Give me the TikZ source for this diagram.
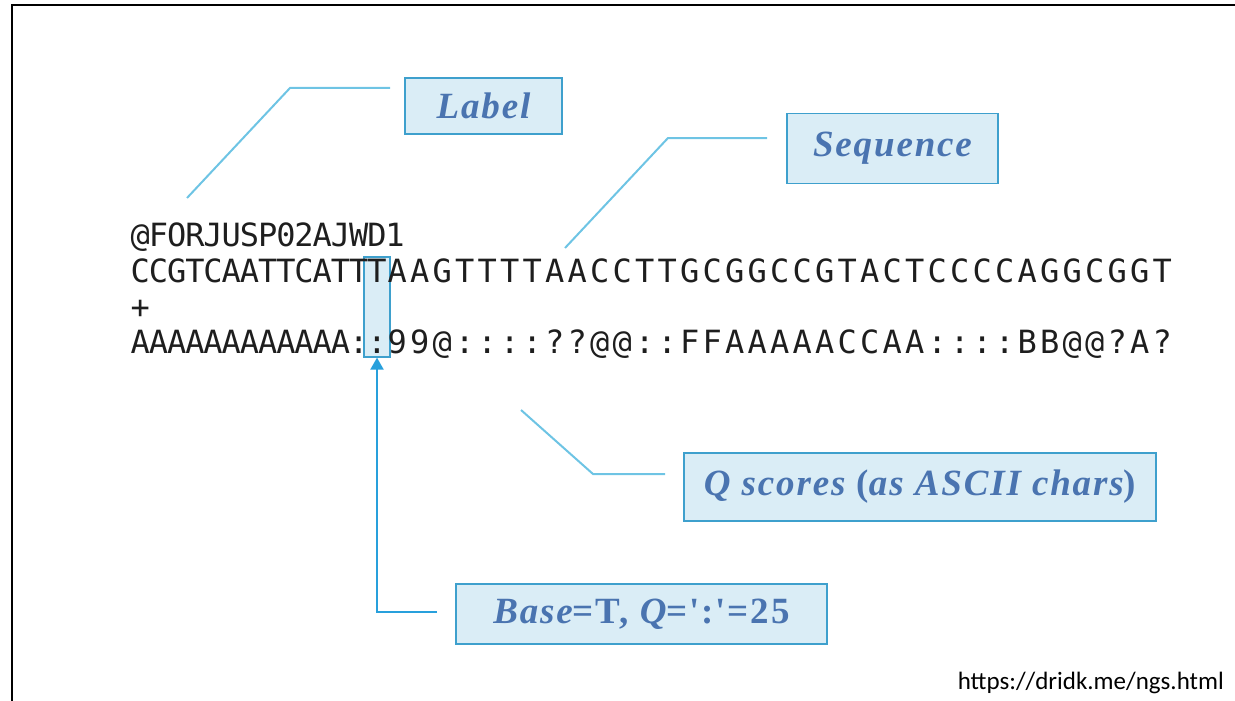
\documentclass[tikz,border=0pt]{standalone}
\usepackage{fontspec}
\setmainfont{Liberation Serif}
\newfontfamily\seqfont{DejaVu Sans Mono}
\newfontfamily\callfont[LetterSpace=5]{Liberation Serif}
\newfontfamily\urlfont{Carlito}
\usetikzlibrary{arrows.meta}

\definecolor{callout}{RGB}{110,196,228}
\definecolor{boxfill}{RGB}{218,237,246}
\definecolor{boxedge}{RGB}{62,160,205}
\definecolor{boxtext}{RGB}{74,116,176}
\definecolor{arrowblue}{RGB}{40,160,220}
\definecolor{ink}{RGB}{30,30,30}

% set a string one character per fixed-width cell
\makeatletter
\newcommand\monorow[2]{\def\mr@w{#1}\@tfor\mr@c:=#2\do{\makebox[\mr@w]{\mr@c}}}
\makeatother

\begin{document}
\begin{tikzpicture}[x=1pt,y=-1pt,
  callbox/.style={draw=boxedge, fill=boxfill, line width=1.5pt, text=boxtext,
    font=\callfont\fontsize{37}{37}\selectfont\bfseries\itshape, inner sep=0pt},
  callline/.style={draw=callout, line width=2pt},
  arrowline/.style={draw=arrowblue, line width=2pt, -{Triangle[length=12pt,width=13pt]}},
  hlbox/.style={draw=boxedge, fill=boxfill, line width=1.2pt, minimum width=26pt,
    minimum height=100pt, inner sep=0pt},
  seqline/.style={anchor=base west, inner sep=0pt, text=ink,
    font=\seqfont\fontsize{32}{32}\selectfont}]
\useasboundingbox (0,0) rectangle (1235,701);

% outer frame
\draw[line width=2pt, black] (11.5,701) -- (11.5,5.5) -- (1235,5.5);

% highlighted column
\node[hlbox] (hl) at (377,307) {};

% FASTQ record
\node[seqline] (l1) at (131,246) {\monorow{18.2pt}{@FORJUSP02AJWD1}};
\node[seqline] (l2) at (131,282) {\monorow{18.2pt}{CCGTCAATTCATTT}\monorow{22.5pt}{AAGTTTTAACCTTGCGGCCGTACTCCCCAGGCGGT}};
\node[seqline] (l3) at (131,318) {\monorow{18.2pt}{+}};
\node[seqline] (l4) at (131,353) {\monorow{18.2pt}{AAAAAAAAAAAA::}\monorow{22.5pt}{99@::::??@@::FFAAAAACCAA::::BB@@?A?}};

% callout boxes
\node[callbox, minimum width=157pt, minimum height=56pt] (lab) at (483.5,106) {Label};
\node[callbox, minimum width=211pt, minimum height=70pt] (seq) at (892.5,148.5) {Sequence};
\node[callbox, minimum width=472pt, minimum height=68pt] (qs) at (920,487) {Q scores {\upshape(}as ASCII chars{\upshape)}};
\node[callbox, minimum width=371pt, minimum height=60pt] (base) at (641.5,614) {Base{\upshape=T, }Q{\upshape=':'=25}};

% callout leaders
\coordinate (labTail) at (187,198);
\coordinate (labKnee) at (290,88);
\coordinate (labEnd) at (390,88);
\draw[callline] (labTail) -- (labKnee) -- (labEnd);

\coordinate (seqTail) at (565,248);
\coordinate (seqKnee) at (668,138);
\coordinate (seqEnd) at (767,138);
\draw[callline] (seqTail) -- (seqKnee) -- (seqEnd);

\coordinate (qsTail) at (521,410);
\coordinate (qsKnee) at (593,474);
\coordinate (qsEnd) at (665,474);
\draw[callline] (qsTail) -- (qsKnee) -- (qsEnd);

\coordinate (baseEnd) at (437,612);
\draw[arrowline] (baseEnd) -- (hl.south |- baseEnd) -- (hl.south);

% source
\node[anchor=base east, inner sep=0pt, font=\urlfont\fontsize{25}{25}\selectfont] (src) at (1224,689) {https://dridk.me/ngs.html};
\end{tikzpicture}
\end{document}
